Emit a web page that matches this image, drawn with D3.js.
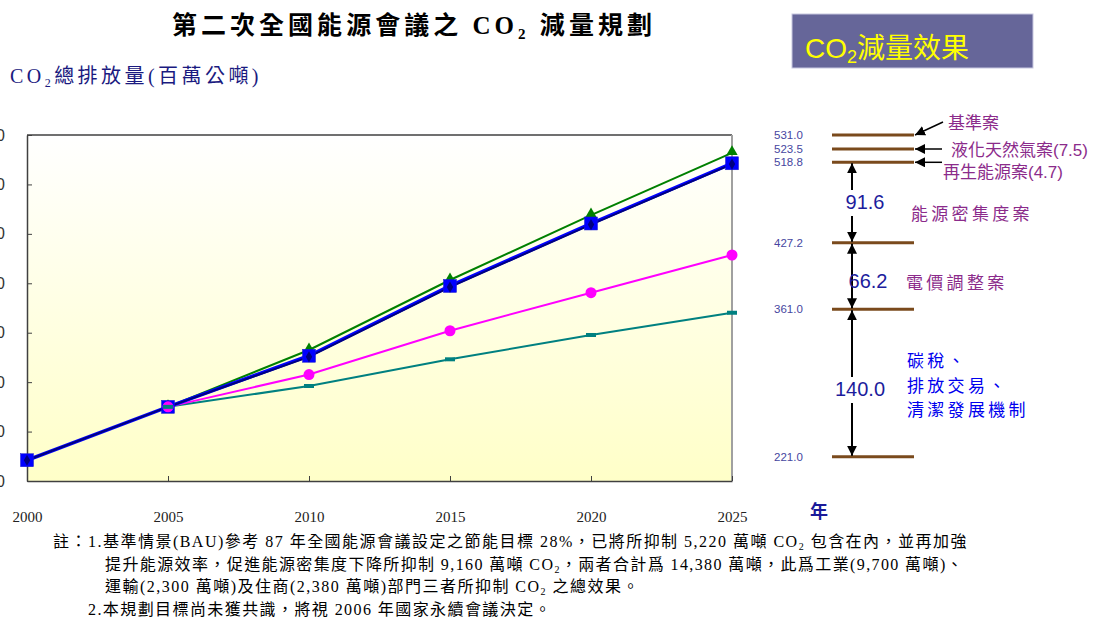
<!DOCTYPE html>
<html>
<head>
<meta charset="utf-8">
<script src="https://cdn.jsdelivr.net/npm/d3@7"></script>
<style>
  body { margin: 0; background: #fff; }
  svg { display: block; }
</style>
</head>
<body>
<svg id="mainsvg" width="1097" height="621"></svg>
<script>
// ---- data ----
const years = [2000, 2005, 2010, 2015, 2020, 2025];
const baseCase = [null, 275, 332.5, 403.3, 469.0, 532.0];      // green triangles
const renewCase = [221, 275, 326.7, 397.3, 460.5, 521.4];      // blue squares
const lngCase = [221, 275, 325.6, 396.2, 459.4, 520.6];        // navy diamonds
const intensityCase = [null, 275, 307.7, 352.0, 390.5, 428.6]; // pink circles
const carbonCase = [null, 275, 296.1, 323.1, 347.7, 370.2];    // teal dashes
const yTicks = [200, 250, 300, 350, 400, 450, 500, 550];

const levels = [531.0, 523.5, 518.8, 427.2, 361.0, 221.0];
const levelText = ['531.0', '523.5', '518.8', '427.2', '361.0', '221.0'];
const pointerLabels = ['基準案', '液化天然氣案(7.5)', '再生能源案(4.7)'];
const gaps = [[518.8, 427.2, '91.6'], [427.2, 361.0, '66.2'], [361.0, 221.0, '140.0']];
const measureLabels = [['能源密集度案'], ['電價調整案'], ['碳稅、', '排放交易、', '清潔發展機制']];

const notes = [
  ['註：1.基準情景(BAU)參考 87 年全國能源會議設定之節能目標 28%，已將所抑制 5,220 萬噸 CO', '2', ' 包含在內，並再加強'],
  ['提升能源效率，促進能源密集度下降所抑制 9,160 萬噸 CO', '2', '，兩者合計爲 14,380 萬噸，此爲工業(9,700 萬噸)、'],
  ['運輸(2,300 萬噸)及住商(2,380 萬噸)部門三者所抑制 CO', '2', ' 之總效果。'],
  ['2.本規劃目標尚未獲共識，將視 2006 年國家永續會議決定。']
];

const svg = d3.select('#mainsvg');
const margin = {top: 135, left: 27};
const width = 705, height = 346;
const serif = "'Liberation Serif', 'Noto Sans CJK TC', serif";
const sans = "'Liberation Sans', 'Noto Sans CJK TC', sans-serif";
const cjk = "'Noto Sans CJK TC', 'Liberation Sans', sans-serif";

// fit a text element to a target width by spreading letters
function fit(sel, target) {
  const node = sel.node();
  const n = node.textContent.length;
  const w = node.getComputedTextLength();
  sel.attr('letter-spacing', (target - w) / n);
}

// ---- headers ----
const title = svg.append('text')
  .attr('x', 172).attr('y', 34)
  .style('font-family', serif).style('font-weight', 'bold').style('font-size', '25px')
  .attr('fill', '#000');
title.append('tspan').text('第二次全國能源會議之 CO');
title.append('tspan').attr('font-size', '15px').attr('dy', 5).text('2');
title.append('tspan').attr('dy', -5).text('  減量規劃');
fit(title, 488);

const sub = svg.append('text')
  .attr('x', 10).attr('y', 83)
  .style('font-family', serif).style('font-size', '20px')
  .attr('fill', '#1a1a80');
sub.append('tspan').text('CO');
sub.append('tspan').attr('font-size', '12px').attr('dy', 4).text('2');
sub.append('tspan').attr('dy', -4).text('總排放量(百萬公噸)');
fit(sub, 252);

svg.append('rect')
  .attr('x', 792).attr('y', 14).attr('width', 241).attr('height', 54)
  .attr('fill', '#666699').attr('stroke', '#c8c8e0').attr('stroke-width', 1);
const boxText = svg.append('text')
  .attr('x', 805).attr('y', 58)
  .style('font-family', sans).style('font-size', '28px')
  .attr('fill', '#ffff00');
boxText.append('tspan').text('CO');
boxText.append('tspan').attr('font-size', '18px').attr('dy', 5).text('2');
boxText.append('tspan').attr('dy', -5).text('減量效果');

// ---- chart ----
const chartGroup = svg.append('g').attr('transform', `translate(${margin.left},${margin.top})`);
const xScale = d3.scaleLinear().domain([2000, 2025]).range([0, width]);
const yScale = d3.scaleLinear().domain([200, 550]).range([height, 0]);

const defs = svg.append('defs');
const grad = defs.append('linearGradient').attr('id', 'bg').attr('x1', 0).attr('y1', 0).attr('x2', 0).attr('y2', 1);
grad.append('stop').attr('offset', '0%').attr('stop-color', '#ffffff');
grad.append('stop').attr('offset', '100%').attr('stop-color', '#ffffc8');

chartGroup.append('rect').attr('width', width).attr('height', height).attr('fill', 'url(#bg)');
chartGroup.append('line').attr('x1', 0).attr('x2', width).attr('y1', 0).attr('y2', 0)
  .attr('stroke', '#404040').attr('stroke-width', 1.5);
chartGroup.append('line').attr('x1', width).attr('x2', width).attr('y1', 0).attr('y2', height)
  .attr('stroke', '#a0a0a0').attr('stroke-width', 2);

// y axis, labels fall off the left edge as in the picture
const yAxis = chartGroup.append('g')
  .call(d3.axisLeft(yScale).tickValues(yTicks).tickSizeInner(-5).tickSizeOuter(0).tickPadding(22));
yAxis.select('.domain').attr('stroke', '#404040').attr('stroke-width', 1.5);
yAxis.selectAll('.tick line').attr('stroke', '#404040');
yAxis.selectAll('.tick text').style('font-family', sans).style('font-size', '16px').attr('fill', '#333');

const xAxis = chartGroup.append('g').attr('transform', `translate(0,${height})`)
  .call(d3.axisBottom(xScale).tickValues(years).tickFormat(d3.format('d')).tickSizeInner(-5).tickSizeOuter(0).tickPadding(30));
xAxis.select('.domain').attr('stroke', '#404040').attr('stroke-width', 1.5);
xAxis.selectAll('.tick line').attr('stroke', '#404040');
xAxis.selectAll('.tick text').style('font-family', serif).style('font-size', '15px').attr('fill', '#222');

svg.append('text').attr('x', 810).attr('y', 518)
  .style('font-family', cjk).style('font-weight', 'bold').style('font-size', '18px')
  .attr('fill', '#1a1a99').text('年');

function pts(vals) {
  return years.map((y, i) => ({year: y, v: vals[i]})).filter(d => d.v != null);
}
const line = d3.line().x(d => xScale(d.year)).y(d => yScale(d.v));

chartGroup.append('path').datum(pts(carbonCase)).attr('d', line)
  .attr('fill', 'none').attr('stroke', '#008080').attr('stroke-width', 2);
chartGroup.append('path').datum(pts(intensityCase)).attr('d', line)
  .attr('fill', 'none').attr('stroke', '#ff00ff').attr('stroke-width', 2);
chartGroup.append('path').datum(pts(baseCase)).attr('d', line)
  .attr('fill', 'none').attr('stroke', '#008000').attr('stroke-width', 2);
chartGroup.append('path').datum(pts(renewCase)).attr('d', line)
  .attr('fill', 'none').attr('stroke', '#0000ff').attr('stroke-width', 3.5);
chartGroup.append('path').datum(pts(lngCase)).attr('d', line)
  .attr('fill', 'none').attr('stroke', '#000080').attr('stroke-width', 2);

chartGroup.selectAll('.tri').data(pts(baseCase)).enter().append('path')
  .attr('d', d3.symbol(d3.symbolTriangle, 55))
  .attr('transform', d => `translate(${xScale(d.year)},${yScale(d.v) - 1})`)
  .attr('fill', '#008000');
chartGroup.selectAll('.sq').data(pts(renewCase)).enter().append('rect')
  .attr('x', d => xScale(d.year) - 6.5).attr('y', d => yScale(d.v) - 6.5)
  .attr('width', 13).attr('height', 13)
  .attr('fill', '#0000ff').attr('stroke', '#1a1acc').attr('stroke-width', 0.5);
chartGroup.selectAll('.dia').data(pts(lngCase)).enter().append('path')
  .attr('d', d3.symbol(d3.symbolDiamond, 36))
  .attr('transform', d => `translate(${xScale(d.year)},${yScale(d.v)})`)
  .attr('fill', '#000080');
chartGroup.selectAll('.dot').data(pts(intensityCase)).enter().append('circle')
  .attr('cx', d => xScale(d.year)).attr('cy', d => yScale(d.v)).attr('r', 5.5)
  .attr('fill', '#ff00ff');
chartGroup.selectAll('.dash').data(pts(carbonCase)).enter().append('rect')
  .attr('x', d => xScale(d.year) - 5).attr('y', d => yScale(d.v) - 2)
  .attr('width', 10).attr('height', 4)
  .attr('fill', '#008080');

// ---- right-hand reduction diagram ----
const levelY = d3.scaleLinear().domain([221, 361, 427.2, 518.8, 523.5, 531]).range([456.7, 309.3, 242.7, 162.3, 149, 135]);
const lx1 = 832, lx2 = 914, ax = 852;

defs.append('marker').attr('id', 'head').attr('viewBox', '0 0 10 10')
  .attr('refX', 10).attr('refY', 5).attr('markerWidth', 10).attr('markerHeight', 10)
  .attr('markerUnits', 'userSpaceOnUse').attr('orient', 'auto-start-reverse')
  .append('path').attr('d', 'M0,0 L10,5 L0,10 Z').attr('fill', '#000');

svg.selectAll('.lvl').data(levels).enter().append('line')
  .attr('x1', lx1).attr('x2', lx2).attr('y1', d => levelY(d)).attr('y2', d => levelY(d))
  .attr('stroke', '#7a4a1c').attr('stroke-width', 3);
svg.selectAll('.lvlText').data(levels).enter().append('text')
  .attr('x', 774).attr('y', d => levelY(d) + 4)
  .style('font-family', sans).style('font-size', '11.5px').attr('fill', '#4646a0')
  .text((d, i) => levelText[i]);

// pointer arrows for the top three cases
const pointerStart = [[943, 122], [942, levelY(523.5)], [942, levelY(518.8)]];
const pointerTextPos = [[948, 129], [951, 156], [943, 178]];
levels.slice(0, 3).forEach((lv, i) => {
  svg.append('line')
    .attr('x1', pointerStart[i][0]).attr('y1', pointerStart[i][1])
    .attr('x2', lx2 + 1).attr('y2', levelY(lv))
    .attr('stroke', '#000').attr('stroke-width', 1.5).attr('marker-end', 'url(#head)');
  svg.append('text').attr('x', pointerTextPos[i][0]).attr('y', pointerTextPos[i][1])
    .style('font-family', sans).style('font-size', '17px').attr('fill', '#8b2b8b')
    .text(pointerLabels[i]);
});

// double arrows with the reduction sizes
const gapTextPos = [[865, 209, true], [868, 288, false], [860, 396, true]];
const measurePos = [[911, 220], [906, 289], [907, 367]];
gaps.forEach((g, i) => {
  svg.append('line')
    .attr('x1', ax).attr('x2', ax).attr('y1', levelY(g[0]) + 1).attr('y2', levelY(g[1]) - 1)
    .attr('stroke', '#000').attr('stroke-width', 2)
    .attr('marker-start', 'url(#head)').attr('marker-end', 'url(#head)');
  const t = svg.append('text').attr('x', gapTextPos[i][0]).attr('y', gapTextPos[i][1])
    .attr('text-anchor', 'middle')
    .style('font-family', sans).style('font-size', '20px').attr('fill', '#1c1c9c')
    .text(g[2]);
  if (gapTextPos[i][2]) {
    const b = t.node().getBBox();
    svg.insert('rect', () => t.node())
      .attr('x', ax - 4).attr('y', b.y - 1).attr('width', 8).attr('height', b.height + 4)
      .attr('fill', '#fff');
  }
  measureLabels[i].forEach((s, k) => {
    svg.append('text')
      .attr('x', measurePos[i][0]).attr('y', measurePos[i][1] + k * 24.7)
      .style('font-family', cjk).style('font-size', '17px').attr('letter-spacing', 3.3)
      .attr('fill', i === 2 ? '#0000ee' : '#8b2b8b')
      .text(s);
  });
});

// ---- notes ----
const noteX = [53, 105, 105, 88];
const noteW = [915, 859, 535, 464];
notes.forEach((parts, i) => {
  const t = svg.append('text').attr('x', noteX[i]).attr('y', 547 + i * 22.7)
    .style('font-family', serif).style('font-size', '16px').attr('fill', '#000');
  parts.forEach((p, k) => {
    if (k === 1) t.append('tspan').attr('font-size', '10px').attr('dy', 3).text(p);
    else t.append('tspan').attr('dy', k === 2 ? -3 : 0).text(p);
  });
  fit(t, noteW[i]);
});
</script>
</body>
</html>
